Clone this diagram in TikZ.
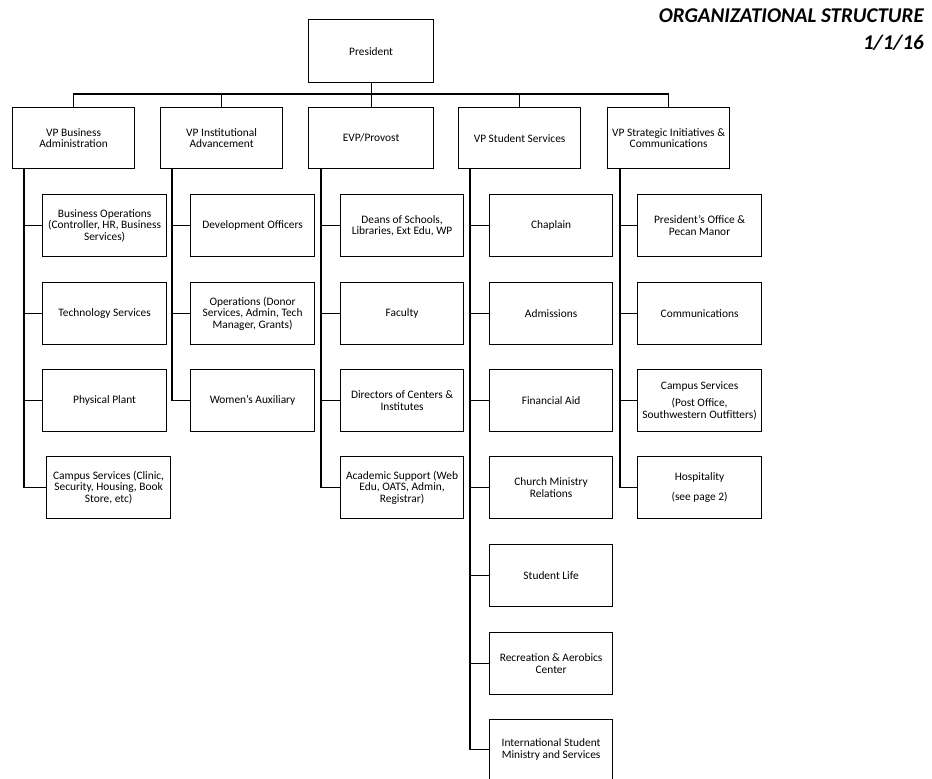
\documentclass[tikz,border=0pt]{standalone}
\usepackage{fontspec}
\setmainfont{Carlito}
\begin{document}
\begin{tikzpicture}[x=1pt,y=-1pt,
  box/.style={draw=black,line width=1.2pt,inner xsep=0pt,inner ysep=1pt,align=center,anchor=north west,
    font=\fontsize{11.4}{11.6}\selectfont},
  conn/.style={draw=black,line width=1.2pt},
  ttl/.style={font=\fontsize{21}{22}\selectfont\bfseries\itshape,inner sep=0pt,anchor=base east}]
\useasboundingbox (0,0) rectangle (932,779);
% title
\node[ttl] (t1) at (924,22) {ORGANIZATIONAL STRUCTURE};
\node[ttl] (t2) at (924,49) {1/1/16};
% president
\node[box,minimum width=125pt,minimum height=63pt] (pres) at (308,19) {President};
% VPs
\tikzset{vp/.style={box,minimum width=122pt,minimum height=61pt}}
\node[vp] (vpb) at (12,107) {VP Business\\Administration};
\node[vp] (vpi) at (160,107) {VP Institutional\\Advancement};
\node[vp,minimum width=125pt] (evp) at (308,107) {EVP/Provost};
\node[vp] (vps) at (458,107) {VP Student Services};
\node[vp] (vpsi) at (607,107) {VP Strategic Initiatives \&\\Communications};
% children
\tikzset{ch/.style={box,minimum width=124pt,minimum height=62pt}}
% Business
\node[ch] (b1) at (42,194) {Business Operations\\(Controller, HR, Business\\Services)};
\node[ch] (b2) at (42,282) {Technology Services};
\node[ch] (b3) at (42,369) {Physical Plant};
\node[ch] (b4) at (46,456) {Campus Services (Clinic,\\Security, Housing, Book\\Store, etc)};
% Institutional
\node[ch] (i1) at (190,194) {Development Officers};
\node[ch] (i2) at (190,282) {Operations (Donor\\Services, Admin, Tech\\Manager, Grants)};
\node[ch] (i3) at (190,369) {Women's Auxiliary};
% EVP
\node[ch,minimum width=123pt] (e1) at (340,194) {Deans of Schools,\\Libraries, Ext Edu, WP};
\node[ch,minimum width=123pt] (e2) at (340,282) {Faculty};
\node[ch,minimum width=123pt] (e3) at (340,369) {Directors of Centers \&\\Institutes};
\node[ch,minimum width=123pt] (e4) at (340,456) {Academic Support (Web\\Edu, OATS, Admin,\\Registrar)};
% Student
\node[ch,minimum width=123pt] (s1) at (489,194) {Chaplain};
\node[ch,minimum width=123pt] (s2) at (489,282) {Admissions};
\node[ch,minimum width=123pt] (s3) at (489,369) {Financial Aid};
\node[ch,minimum width=123pt] (s4) at (489,456) {Church Ministry\\Relations};
\node[ch,minimum width=123pt] (s5) at (489,544) {Student Life};
\node[ch,minimum width=123pt] (s6) at (489,632) {Recreation \& Aerobics\\Center};
\node[ch,minimum width=123pt,minimum height=60pt] (s7) at (489,719) {International Student\\Ministry and Services};
% Strategic
\node[ch] (g1) at (637,194) {President's Office \&\\Pecan Manor};
\node[ch] (g2) at (637,282) {Communications};
\node[ch] (g3) at (637,369) {Campus Services\\[6pt](Post Office,\\Southwestern Outfitters)};
\node[ch] (g4) at (637,456) {Hospitality\\[8pt](see page 2)};
% top connectors
\draw[conn] (pres.south) -- (evp.north);
\draw[conn] (vpb.north) -- ++(0,-13) -| (vpsi.north);
\draw[conn] (vpi.north) -- ++(0,-13);
\draw[conn] (vps.north) -- ++(0,-13);
% column spines
\coordinate (cb) at ([xshift=12pt]vpb.south west);
\coordinate (ci) at ([xshift=12pt]vpi.south west);
\coordinate (ce) at ([xshift=13pt]evp.south west);
\coordinate (cs) at ([xshift=12pt]vps.south west);
\coordinate (cg) at ([xshift=13pt]vpsi.south west);
\draw[conn] (cb) |- (b4.west);
\foreach \n in {b1,b2,b3} \draw[conn] (\n.west) -- (\n.west -| cb);
\draw[conn] (ci) |- (i3.west);
\foreach \n in {i1,i2} \draw[conn] (\n.west) -- (\n.west -| ci);
\draw[conn] (ce) |- (e4.west);
\foreach \n in {e1,e2,e3} \draw[conn] (\n.west) -- (\n.west -| ce);
\draw[conn] (cs) |- (s7.west);
\foreach \n in {s1,s2,s3,s4,s5,s6} \draw[conn] (\n.west) -- (\n.west -| cs);
\draw[conn] (cg) |- (g4.west);
\foreach \n in {g1,g2,g3} \draw[conn] (\n.west) -- (\n.west -| cg);
\end{tikzpicture}
\end{document}
